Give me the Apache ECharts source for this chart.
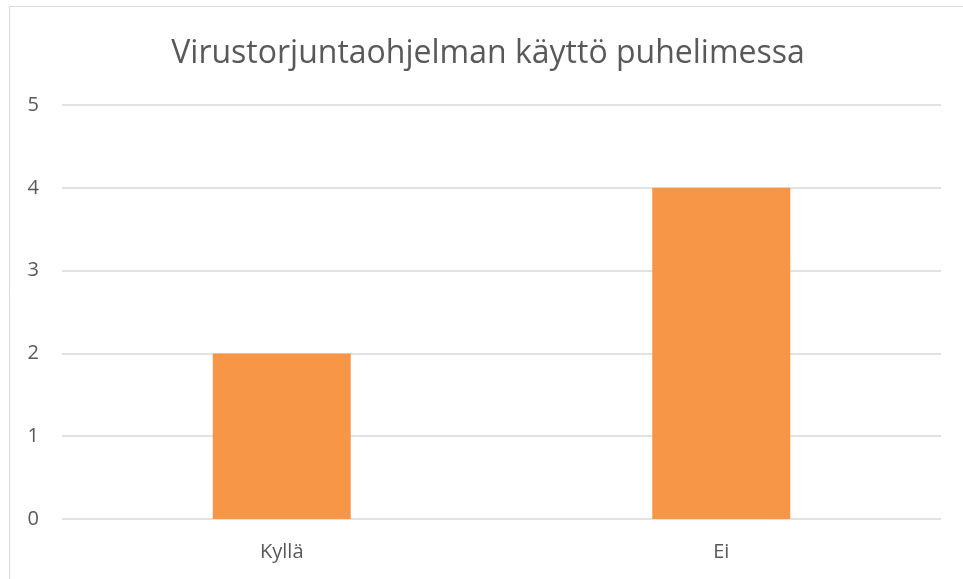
<!DOCTYPE html>
<html>
<head>
<meta charset="utf-8">
<script src="https://cdn.jsdelivr.net/npm/echarts@6/dist/echarts.min.js"></script>
<style>
  html, body { margin: 0; padding: 0; background: #fff; }
  #main { width: 963px; height: 579px; }
</style>
</head>
<body>
<div id="main"></div>
<script>
const titleText = 'Virustorjuntaohjelman käyttö puhelimessa';
const categories = ['Kyllä', 'Ei'];
const values = [2, 4];
const yTicks = [0, 1, 2, 3, 4, 5];

const textColor = '#595959';
const font = 'Open Sans';

echarts.init(document.getElementById('main')).setOption({
  backgroundColor: '#fff',
  animation: false,
  title: {
    text: titleText,
    left: 488,
    top: 38,
    textAlign: 'center',
    padding: 0,
    textStyle: {
      color: textColor,
      fontFamily: font,
      fontSize: 32,
      fontWeight: 'normal'
    }
  },
  graphic: [{
    type: 'rect',
    shape: { x: 9.5, y: 6.5, width: 1000, height: 1000 },
    style: { fill: 'none', stroke: '#d9d9d9', lineWidth: 1 },
    silent: true
  }],
  grid: {
    left: 62,
    right: 22,
    top: 105,
    bottom: 60
  },
  xAxis: {
    type: 'category',
    data: categories,
    axisLine: { show: false },
    axisTick: { show: false },
    axisLabel: {
      color: textColor,
      fontFamily: font,
      fontSize: 20,
      margin: 23
    }
  },
  yAxis: {
    type: 'value',
    min: yTicks[0],
    max: yTicks[yTicks.length - 1],
    interval: 1,
    axisLine: { show: false },
    axisTick: { show: false },
    axisLabel: {
      color: textColor,
      fontFamily: font,
      fontSize: 20,
      margin: 23
    },
    splitLine: {
      lineStyle: { color: '#d9d9d9', width: 1.5 }
    }
  },
  series: [{
    type: 'bar',
    data: values,
    barWidth: '31.4%',
    itemStyle: { color: '#F79646' }
  }]
});
</script>
</body>
</html>
